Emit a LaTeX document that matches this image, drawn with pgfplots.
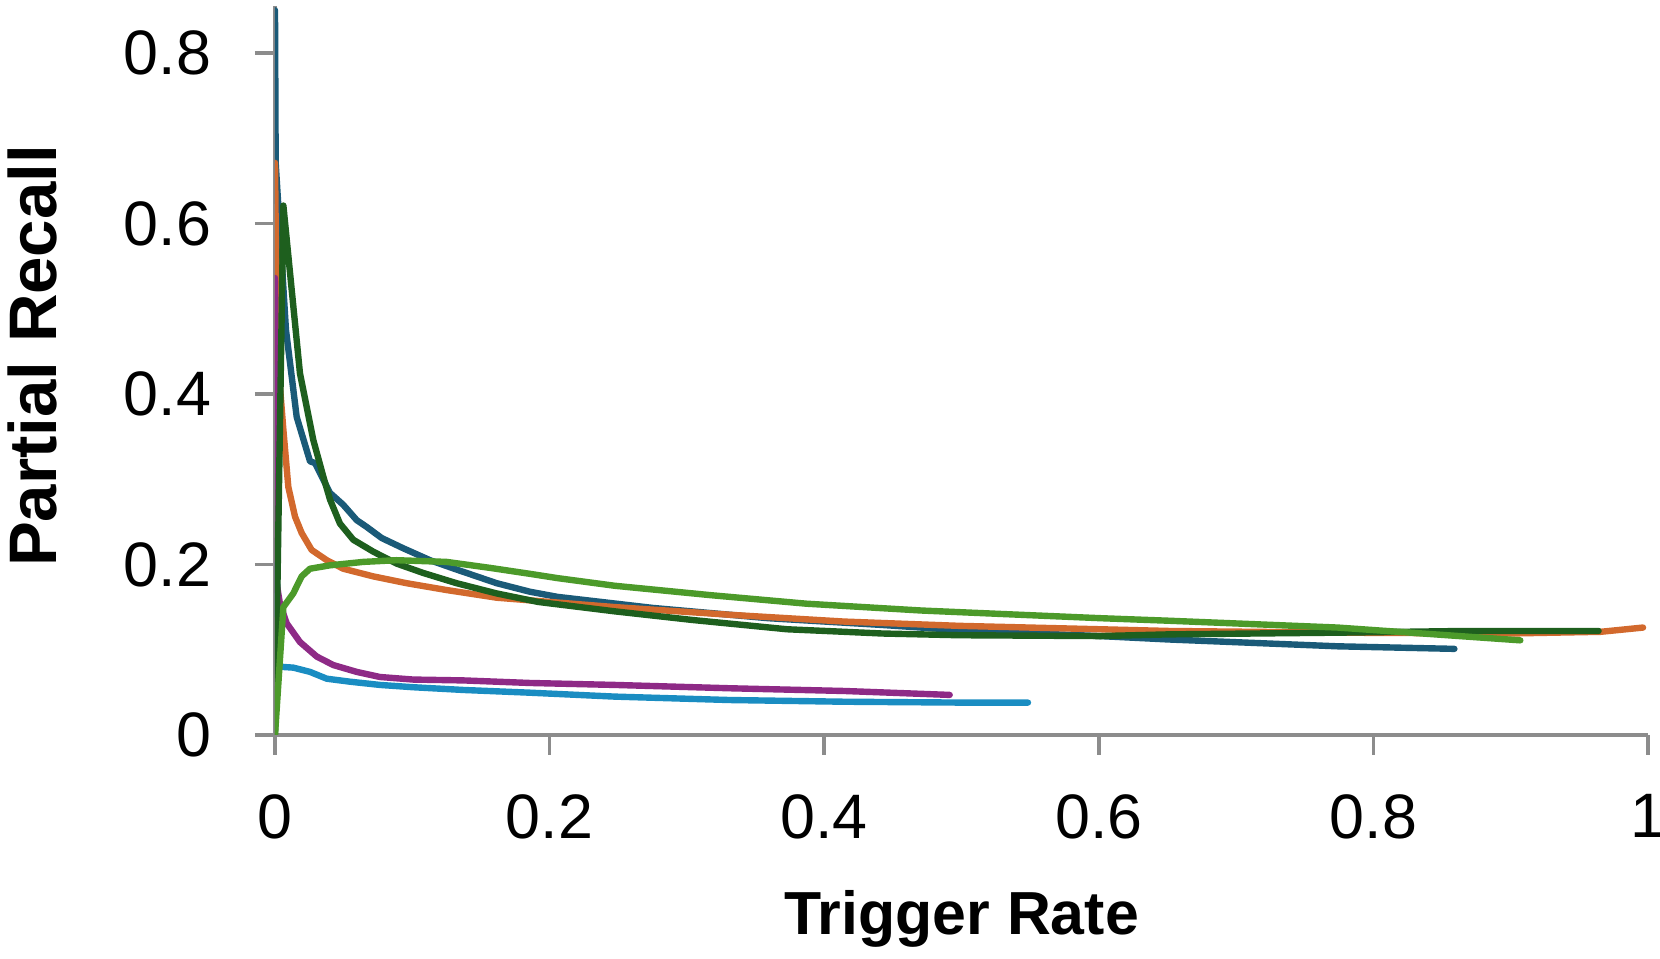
\documentclass[border=0pt]{standalone}
\usepackage{fontspec}
\setmainfont{Liberation Sans}
\usepackage{pgfplots}
\pgfplotsset{compat=1.18}

\definecolor{cBlue}{RGB}{26,90,120}
\definecolor{cOrange}{RGB}{210,105,45}
\definecolor{cDGreen}{RGB}{30,95,30}
\definecolor{cLGreen}{RGB}{76,154,42}
\definecolor{cPurple}{RGB}{142,42,134}
\definecolor{cLBlue}{RGB}{26,141,194}
\definecolor{cAxis}{RGB}{140,140,140}

\begin{document}
\begin{tikzpicture}
\begin{axis}[
    name=ax,
    scale only axis,
    width=343.25pt, height=182.25pt,
    xmin=0, xmax=1, ymin=0, ymax=0.855,
    axis x line*=bottom, axis y line*=left,
    axis line style={cAxis, line width=1pt},
    tick align=outside,
    major tick length=5pt,
    tick style={cAxis, line width=0.9pt},
    xtick={0,0.2,0.4,0.6,0.8,1},
    xticklabels={0,0.2,0.4,0.6,0.8,1},
    ytick={0,0.2,0.4,0.6,0.8},
    yticklabels={0,0.2,0.4,0.6,0.8},
    ticklabel style={font=\fontsize{15.7}{18}\selectfont},
    xticklabel style={anchor=north, inner sep=0pt, yshift=-9.75pt},
    yticklabel style={anchor=east, inner sep=0pt, xshift=-10.75pt},
    xlabel={Trigger Rate},
    ylabel={Partial Recall},
    xlabel style={font=\fontsize{15.2}{18}\selectfont\bfseries, at={(axis description cs:0.5,0)}, anchor=base, yshift=-50pt},
    ylabel style={font=\fontsize{16.8}{20}\selectfont\bfseries, at={(axis description cs:0,0.52)}, anchor=base, yshift=54.5pt},
    every axis plot/.append style={line width=1.6pt, line cap=round, line join=round, mark=none},
]
% dark blue
\addplot[cBlue] coordinates {
(0,0.850) (0.0005,0.671) (0.0080,0.475) (0.0158,0.373) (0.0255,0.321) (0.0291,0.319)
(0.0400,0.284) (0.0497,0.270) (0.0595,0.252) (0.0668,0.244) (0.0777,0.231) (0.0934,0.219)
(0.1129,0.205) (0.1323,0.194) (0.1615,0.178) (0.1857,0.168) (0.2057,0.162) (0.2753,0.149)
(0.3591,0.137) (0.4426,0.129) (0.4982,0.123) (0.5541,0.119) (0.6009,0.116) (0.651,0.112)
(0.774,0.104) (0.859,0.101)
};
% orange
\addplot[cOrange] coordinates {
(0,0.671) (0.0015,0.452) (0.0061,0.358) (0.0097,0.291) (0.0146,0.256) (0.0194,0.237)
(0.0267,0.217) (0.0377,0.205) (0.0497,0.195) (0.0716,0.186) (0.0959,0.178) (0.1250,0.170)
(0.1615,0.161) (0.2475,0.150) (0.3311,0.141) (0.4147,0.133) (0.4983,0.128) (0.6009,0.124)
(0.651,0.122) (0.774,0.120) (0.898,0.119) (0.9655,0.121) (0.9964,0.126)
};
% light blue
\addplot[cLBlue] coordinates {
(0.001,0.20) (0.0036,0.080) (0.0133,0.079) (0.0255,0.074) (0.0377,0.066) (0.0546,0.0625)
(0.0765,0.0587) (0.1007,0.056) (0.1372,0.0528) (0.1857,0.0496) (0.2475,0.045) (0.3311,0.041)
(0.4147,0.039) (0.4983,0.038) (0.5484,0.038)
};
% purple
\addplot[cPurple] coordinates {
(0,0.536) (0.0005,0.30) (0.0012,0.178) (0.0036,0.154) (0.0085,0.131) (0.0182,0.109)
(0.0304,0.092) (0.0425,0.082) (0.0595,0.074) (0.0765,0.068) (0.1007,0.065) (0.1372,0.064)
(0.1857,0.061) (0.2475,0.0587) (0.3311,0.0548) (0.4147,0.0516) (0.4914,0.047)
};
% dark green
\addplot[cDGreen] coordinates {
(0,0) (0.0015,0.145) (0.0061,0.621) (0.0182,0.424) (0.0279,0.346) (0.0352,0.303)
(0.0401,0.276) (0.0473,0.248) (0.0570,0.229) (0.0716,0.215) (0.0886,0.201) (0.1080,0.190)
(0.1323,0.178) (0.1615,0.166) (0.1918,0.156) (0.2475,0.145) (0.3033,0.135) (0.3729,0.124)
(0.4426,0.119) (0.498,0.117) (0.601,0.116) (0.651,0.118) (0.774,0.120) (0.867,0.122)
(0.964,0.122)
};
% light green
\addplot[cLGreen] coordinates {
(0,0) (0.0061,0.150) (0.0133,0.166) (0.0194,0.186) (0.0255,0.195) (0.0401,0.199)
(0.0643,0.203) (0.0886,0.205) (0.1250,0.203) (0.1566,0.196) (0.1857,0.189) (0.2057,0.184)
(0.2475,0.175) (0.3172,0.164) (0.3869,0.154) (0.4705,0.146) (0.528,0.142) (0.6009,0.137)
(0.651,0.134) (0.774,0.126) (0.836,0.119) (0.907,0.111)
};
\end{axis}
\pgfresetboundingbox
\path ([xshift=-68.75pt,yshift=-56pt]ax.south west) rectangle ([xshift=3pt,yshift=1.5pt]ax.north east);
\end{tikzpicture}
\end{document}
